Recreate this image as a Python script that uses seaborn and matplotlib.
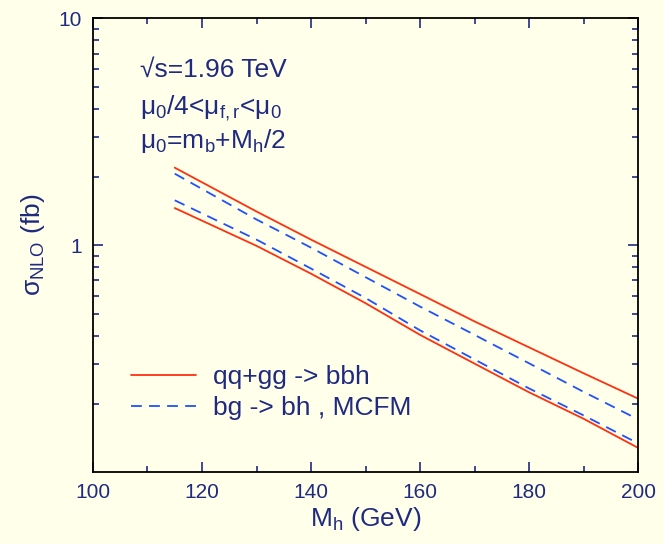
import matplotlib
matplotlib.use("Agg")
import matplotlib.pyplot as plt
from matplotlib.ticker import FixedLocator, NullFormatter, MultipleLocator
import seaborn as sns
import pandas as pd

# valori (sigma NLO in fb)
mh = [115, 130, 140, 150, 160, 170, 180, 190, 200]
qq_gg_up = [2.20, 1.41, 1.06, 0.804, 0.610, 0.462, 0.355, 0.273, 0.211]
qq_gg_lo = [1.46, 0.995, 0.75, 0.556, 0.403, 0.301, 0.225, 0.172, 0.128]
bg_up = [2.07, 1.30, 0.977, 0.724, 0.537, 0.403, 0.302, 0.226, 0.171]
bg_lo = [1.58, 1.06, 0.79, 0.586, 0.422, 0.314, 0.234, 0.178, 0.134]

labels = ["qq+gg -> bbh", "bg -> bh , MCFM"]

bg_col = "#FFFFEA"
txt_col = "#1f2a80"
red = "#FF3010"
blue = "#2050FF"

sns.set_style("ticks")
plt.rcParams["font.family"] = ["Liberation Sans", "DejaVu Sans"]
plt.rcParams["mathtext.fontset"] = "custom"
plt.rcParams["mathtext.rm"] = "Liberation Sans"
plt.rcParams["mathtext.it"] = "Liberation Sans"
plt.rcParams["mathtext.bf"] = "Liberation Sans"

fig = plt.figure(figsize=(6.64, 5.44), dpi=100, facecolor=bg_col)
ax = fig.add_axes([0.140, 0.132, 0.821, 0.834])
ax.set_facecolor(bg_col)

df = pd.DataFrame({"mh": mh, "ru": qq_gg_up, "rl": qq_gg_lo, "bu": bg_up, "bl": bg_lo})

sns.lineplot(data=df, x="mh", y="ru", color=red, lw=1.3, label=labels[0], ax=ax)
sns.lineplot(data=df, x="mh", y="rl", color=red, lw=1.3, label="_nolegend_", ax=ax)
sns.lineplot(data=df, x="mh", y="bu", color=blue, lw=1.3, ax=ax,
             label=labels[1], linestyle=(0, (6, 4)))
sns.lineplot(data=df, x="mh", y="bl", color=blue, lw=1.3, ax=ax,
             label="_nolegend_", linestyle=(0, (6, 4)))

ax.set_yscale("log")
ax.set_xlim(100, 200)
ax.set_ylim(0.1, 10)
ax.xaxis.set_major_locator(MultipleLocator(20))
ax.xaxis.set_minor_locator(MultipleLocator(10))
ax.yaxis.set_major_locator(FixedLocator([1, 10]))
ax.set_yticklabels(["1", "10"])
minors = [m * 10.0 ** e for e in (-1, 0) for m in range(2, 10)]
ax.yaxis.set_minor_locator(FixedLocator(minors))
ax.yaxis.set_minor_formatter(NullFormatter())

ax.tick_params(which="both", direction="in", top=True, right=True, color=txt_col,
               labelcolor=txt_col, labelsize=15, width=1.2)
ax.tick_params(which="major", length=7, pad=8)
ax.tick_params(which="minor", length=4)
for s in ax.spines.values():
    s.set_color("black")
    s.set_linewidth(1.3)

ax.set_xlabel(r"M$_\mathrm{h}$ (GeV)", fontsize=19, color=txt_col, labelpad=2)
ax.set_ylabel(r"$\sigma_\mathrm{NLO}$ (fb)", fontsize=19, color=txt_col, labelpad=8)

ax.text(0.086, 0.886, "√s=1.96 TeV", transform=ax.transAxes, fontsize=19,
        color=txt_col, va="center")
ax.text(0.086, 0.802, r"μ$_0$/4<μ$_\mathrm{f,r}$<μ$_0$", transform=ax.transAxes,
        fontsize=19, color=txt_col, va="center")
ax.text(0.086, 0.731, r"μ$_0$=m$_\mathrm{b}$+M$_\mathrm{h}$/2", transform=ax.transAxes,
        fontsize=19, color=txt_col, va="center")

leg = ax.legend(loc="center left", bbox_to_anchor=(0.026, 0.175), frameon=False,
                fontsize=19, handlelength=2.46, handletextpad=0.65, labelspacing=0.27)
for t in leg.get_texts():
    t.set_color(txt_col)

fig.savefig("out.png", dpi=100, facecolor=bg_col)
